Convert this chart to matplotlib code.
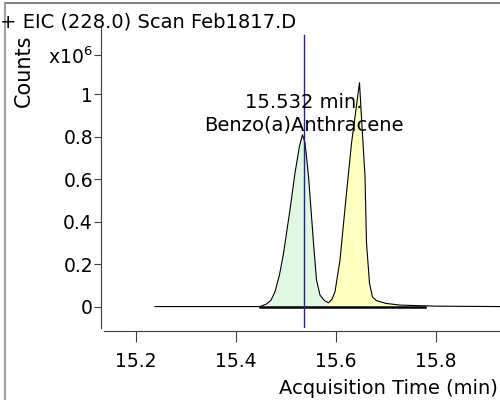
import matplotlib
matplotlib.use("Agg")
import matplotlib.pyplot as plt
from matplotlib.lines import Line2D
import numpy as np

# chromatogram trace (time in min, counts x10^6)
time = [15.238, 15.30, 15.40, 15.448, 15.461, 15.470, 15.478, 15.487, 15.495,
        15.508, 15.518, 15.527, 15.533, 15.538, 15.545, 15.555, 15.561,
        15.568, 15.577, 15.585, 15.592, 15.598, 15.608, 15.621, 15.631,
        15.640, 15.647, 15.652, 15.658, 15.661, 15.667, 15.673, 15.681,
        15.700, 15.728, 15.80, 15.93]
counts = [0.0, 0.0, 0.0, 0.0, 0.012, 0.03, 0.07, 0.15, 0.25,
          0.457, 0.63, 0.757, 0.81, 0.773, 0.615, 0.30, 0.125,
          0.054, 0.028, 0.018, 0.035, 0.07, 0.22, 0.535, 0.77,
          0.93, 1.055, 0.85, 0.615, 0.30, 0.11, 0.045, 0.028,
          0.015, 0.007, 0.002, 0.0]

# integrated peaks: (start, end) and fill colours
peak_ranges = [(15.461, 15.585), (15.585, 15.728)]
peak_colors = ["#e0f8e2", "#ffffc0"]
int_baseline = (15.448, 15.778)

rt_mark = 15.535
rt_time = "15.532 min."
rt_name = "Benzo(a)Anthracene"

xticks = [15.2, 15.4, 15.6, 15.8]
yticks = [0, 0.2, 0.4, 0.6, 0.8, 1.0, 1.186]
yticklabels = ["0", "0.2", "0.4", "0.6", "0.8", "1", "x10$^6$"]

t = np.array(time)
c = np.array(counts)

fig = plt.figure(figsize=(5, 4), dpi=100)
ax = fig.add_axes([0.208, 0.18, 0.792, 0.7525])

for (a, b), col in zip(peak_ranges, peak_colors):
    m = (t >= a) & (t <= b)
    ax.fill_between(t[m], 0, c[m], color=col, lw=0)

ax.plot(t, c, color="black", lw=0.8)
ax.plot(int_baseline, [0, 0], color="black", lw=1.8)
ax.axvline(rt_mark, ymin=0, ymax=0.973, color="#2020a0", lw=1)
ax.text(rt_mark, 0.962, rt_time, ha="center", va="center", fontsize=14)
ax.text(rt_mark, 0.858, rt_name, ha="center", va="center", fontsize=14)

ax.set_xlim(15.136, 15.928)
ax.set_ylim(-0.101, 1.318)
ax.set_xticks(xticks)
ax.set_yticks(yticks)
ax.set_yticklabels(yticklabels)
ax.tick_params(axis="x", length=8, labelsize=13.5, pad=7, color="#404040")
ax.tick_params(axis="y", length=5, labelsize=13.5, pad=1, color="#404040")

ax.spines["top"].set_visible(False)
ax.spines["right"].set_visible(False)
ax.spines["left"].set_position(("outward", 2))
ax.spines["bottom"].set_position(("outward", 2))
ax.spines["left"].set_color("#404040")
ax.spines["bottom"].set_color("#404040")

fig.text(0.0, 0.945, "+ EIC (228.0) Scan Feb1817.D", fontsize=14,
         ha="left", va="center")
fig.text(0.047, 0.914, "Counts", rotation=90, fontsize=15, ha="center", va="top")
fig.text(0.996, 0.03, "Acquisition Time (min)", fontsize=14, ha="right",
         va="center")

# grey frame on the top and left of the picture
fig.lines.append(Line2D([0.01, 1.0], [0.993, 0.993], transform=fig.transFigure,
                        color="#808080", lw=1.5))
fig.lines.append(Line2D([0.01, 0.01], [0.0, 0.993], transform=fig.transFigure,
                        color="#a0a0a0", lw=1.5))

fig.savefig("out.png", dpi=100)
